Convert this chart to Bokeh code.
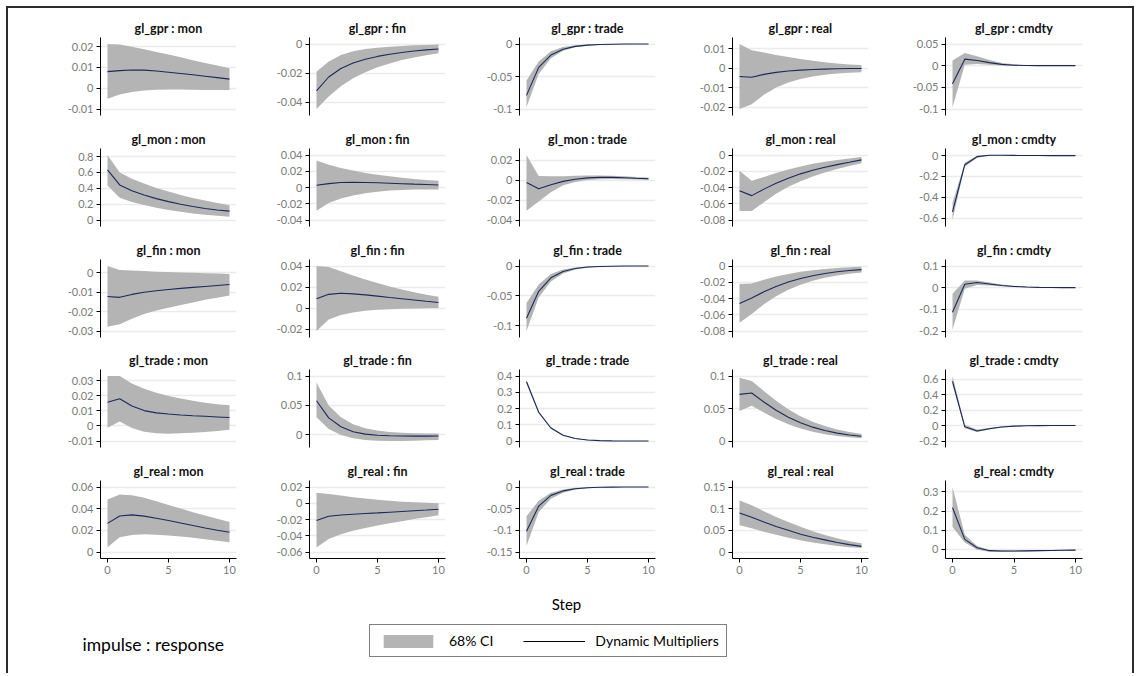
from bokeh.plotting import figure
from bokeh.layouts import column
from bokeh.models import (Range1d, FixedTicker, Legend, LegendItem, Label, GridPlot)
from bokeh.embed import file_html
from bokeh.resources import INLINE

steps = list(range(11))
impulses = ["gpr", "mon", "fin", "trade", "real"]
responses = ["mon", "fin", "trade", "real", "cmdty"]
step_ticks = [0, 5, 10]

# ---------------- impulse gl_gpr ----------------
gpr_mon_mid = [0.0080, 0.0085, 0.0088, 0.0087, 0.0083, 0.0077, 0.0071, 0.0065, 0.0058, 0.0051, 0.0044]
gpr_mon_hi = [0.0213, 0.0210, 0.0200, 0.0188, 0.0175, 0.0162, 0.0149, 0.0135, 0.0122, 0.0109, 0.0096]
gpr_mon_lo = [-0.0051, -0.0030, -0.0018, -0.0011, -0.0007, -0.0006, -0.0006, -0.0007, -0.0008, -0.0009, -0.0009]
gpr_mon_ticks = [-0.01, 0, 0.01, 0.02]

gpr_fin_mid = [-0.0321, -0.0226, -0.0168, -0.0130, -0.0104, -0.0085, -0.0070, -0.0058, -0.0048, -0.0040, -0.0034]
gpr_fin_hi = [-0.0190, -0.0120, -0.0075, -0.0050, -0.0035, -0.0025, -0.0018, -0.0013, -0.0009, -0.0006, -0.0004]
gpr_fin_lo = [-0.0445, -0.0360, -0.0290, -0.0235, -0.0193, -0.0160, -0.0133, -0.0110, -0.0092, -0.0077, -0.0063]
gpr_fin_ticks = [-0.04, -0.02, 0]

gpr_trade_mid = [-0.079, -0.036, -0.017, -0.008, -0.0037, -0.0017, -0.0008, -0.0003, -0.0001, 0.0, 0.0]
gpr_trade_hi = [-0.056, -0.027, -0.011, -0.0045, -0.0018, -0.0007, -0.0002, 0.0, 0.0, 0.0, 0.0]
gpr_trade_lo = [-0.097, -0.046, -0.022, -0.0105, -0.005, -0.0025, -0.0012, -0.0006, -0.0003, -0.0001, -0.0001]
gpr_trade_ticks = [-0.1, -0.05, 0]

gpr_real_mid = [-0.0042, -0.0046, -0.0031, -0.0021, -0.0014, -0.0009, -0.0006, -0.0004, -0.0002, -0.0001, -0.0001]
gpr_real_hi = [0.0125, 0.0093, 0.0081, 0.0069, 0.0058, 0.0048, 0.0039, 0.0031, 0.0025, 0.0020, 0.0017]
gpr_real_lo = [-0.0209, -0.0185, -0.0136, -0.0099, -0.0073, -0.0055, -0.0042, -0.0033, -0.0027, -0.0023, -0.0020]
gpr_real_ticks = [-0.02, -0.01, 0, 0.01]

gpr_cmdty_mid = [-0.042, 0.015, 0.012, 0.007, 0.003, 0.001, 0.0003, 0.0, 0.0, 0.0, 0.0]
gpr_cmdty_hi = [0.012, 0.029, 0.022, 0.013, 0.006, 0.003, 0.001, 0.0004, 0.0001, 0.0, 0.0]
gpr_cmdty_lo = [-0.096, 0.002, 0.004, 0.002, 0.0005, 0.0, -0.0002, -0.0002, -0.0001, 0.0, 0.0]
gpr_cmdty_ticks = [-0.1, -0.05, 0, 0.05]

# ---------------- impulse gl_mon ----------------
mon_mon_mid = [0.633, 0.443, 0.370, 0.315, 0.270, 0.232, 0.198, 0.170, 0.146, 0.126, 0.112]
mon_mon_hi = [0.820, 0.600, 0.520, 0.460, 0.405, 0.358, 0.316, 0.279, 0.246, 0.216, 0.185]
mon_mon_lo = [0.434, 0.282, 0.228, 0.188, 0.155, 0.127, 0.103, 0.083, 0.067, 0.054, 0.042]
mon_mon_ticks = [0, 0.2, 0.4, 0.6, 0.8]

mon_fin_mid = [0.0028, 0.0048, 0.0062, 0.0064, 0.0062, 0.0058, 0.0053, 0.0047, 0.0041, 0.0036, 0.0031]
mon_fin_hi = [0.0333, 0.0280, 0.0240, 0.0208, 0.0180, 0.0157, 0.0137, 0.0120, 0.0105, 0.0093, 0.0083]
mon_fin_lo = [-0.0285, -0.0190, -0.0135, -0.0097, -0.0070, -0.0051, -0.0038, -0.0030, -0.0026, -0.0024, -0.0024]
mon_fin_ticks = [-0.04, -0.02, 0, 0.02, 0.04]

mon_trade_mid = [-0.0024, -0.0087, -0.0045, -0.0012, 0.0010, 0.0023, 0.0028, 0.0028, 0.0024, 0.0019, 0.0015]
mon_trade_hi = [0.0253, 0.0043, 0.0040, 0.0040, 0.0044, 0.0047, 0.0047, 0.0044, 0.0039, 0.0033, 0.0028]
mon_trade_lo = [-0.0307, -0.0213, -0.0120, -0.0052, -0.0017, 0.0001, 0.0009, 0.0011, 0.0009, 0.0006, 0.0003]
mon_trade_ticks = [-0.04, -0.02, 0, 0.02]

mon_real_mid = [-0.0439, -0.0500, -0.0420, -0.0348, -0.0285, -0.0232, -0.0187, -0.0150, -0.0118, -0.0090, -0.0060]
mon_real_hi = [-0.0195, -0.0317, -0.0270, -0.0222, -0.0178, -0.0140, -0.0108, -0.0082, -0.0060, -0.0042, -0.0025]
mon_real_lo = [-0.0690, -0.0690, -0.0580, -0.0478, -0.0392, -0.0322, -0.0264, -0.0215, -0.0173, -0.0136, -0.0100]
mon_real_ticks = [-0.08, -0.06, -0.04, -0.02, 0]

mon_cmdty_mid = [-0.540, -0.087, -0.010, 0.003, 0.003, 0.002, 0.001, 0.0005, 0.0, 0.0, 0.0]
mon_cmdty_hi = [-0.455, -0.068, 0.000, 0.006, 0.005, 0.003, 0.0015, 0.0008, 0.0003, 0.0001, 0.0]
mon_cmdty_lo = [-0.617, -0.105, -0.020, -0.001, 0.001, 0.0005, 0.0002, 0.0, 0.0, 0.0, 0.0]
mon_cmdty_ticks = [-0.6, -0.4, -0.2, 0]

# ---------------- impulse gl_fin ----------------
fin_mon_mid = [-0.0123, -0.0127, -0.0112, -0.0101, -0.0093, -0.0087, -0.0081, -0.0076, -0.0071, -0.0066, -0.0061]
fin_mon_hi = [0.0034, 0.0014, 0.0011, 0.0008, 0.0005, 0.0003, 0.0001, -0.0001, -0.0003, -0.0005, -0.0007]
fin_mon_lo = [-0.0278, -0.0265, -0.0237, -0.0213, -0.0195, -0.0180, -0.0166, -0.0153, -0.0140, -0.0129, -0.0118]
fin_mon_ticks = [-0.03, -0.02, -0.01, 0]

fin_fin_mid = [0.0089, 0.0130, 0.0140, 0.0135, 0.0125, 0.0113, 0.0100, 0.0088, 0.0076, 0.0064, 0.0053]
fin_fin_hi = [0.0400, 0.0390, 0.0350, 0.0310, 0.0272, 0.0237, 0.0205, 0.0176, 0.0150, 0.0127, 0.0106]
fin_fin_lo = [-0.0219, -0.0110, -0.0066, -0.0042, -0.0027, -0.0017, -0.0011, -0.0007, -0.0004, -0.0002, 0.0000]
fin_fin_ticks = [-0.02, 0, 0.02, 0.04]

fin_trade_mid = [-0.0876, -0.0424, -0.0198, -0.0092, -0.0042, -0.0018, -0.0008, -0.0003, -0.0001, 0.0, 0.0]
fin_trade_hi = [-0.0622, -0.0310, -0.0135, -0.0060, -0.0026, -0.0010, -0.0004, -0.0001, 0.0, 0.0, 0.0]
fin_trade_lo = [-0.1090, -0.0530, -0.0260, -0.0125, -0.0060, -0.0028, -0.0013, -0.0006, -0.0003, -0.0001, 0.0]
fin_trade_ticks = [-0.1, -0.05, 0]

fin_real_mid = [-0.0463, -0.0394, -0.0318, -0.0252, -0.0198, -0.0154, -0.0119, -0.0092, -0.0071, -0.0055, -0.0045]
fin_real_hi = [-0.0223, -0.0215, -0.0170, -0.0130, -0.0097, -0.0071, -0.0051, -0.0036, -0.0025, -0.0016, -0.0008]
fin_real_lo = [-0.0699, -0.0590, -0.0470, -0.0372, -0.0293, -0.0231, -0.0182, -0.0145, -0.0116, -0.0095, -0.0080]
fin_real_ticks = [-0.08, -0.06, -0.04, -0.02, 0]

fin_cmdty_mid = [-0.1136, 0.0155, 0.0240, 0.0170, 0.0100, 0.0055, 0.0030, 0.0015, 0.0007, 0.0003, 0.0001]
fin_cmdty_hi = [-0.0280, 0.0336, 0.0330, 0.0240, 0.0150, 0.0090, 0.0050, 0.0025, 0.0012, 0.0005, 0.0002]
fin_cmdty_lo = [-0.1940, -0.0045, 0.0120, 0.0100, 0.0060, 0.0030, 0.0015, 0.0006, 0.0002, 0.0, 0.0]
fin_cmdty_ticks = [-0.2, -0.1, 0, 0.1]

# ---------------- impulse gl_trade ----------------
trade_mon_mid = [0.0157, 0.0181, 0.0133, 0.0102, 0.0087, 0.0079, 0.0073, 0.0068, 0.0064, 0.0060, 0.0056]
trade_mon_hi = [0.0332, 0.0332, 0.0282, 0.0247, 0.0220, 0.0199, 0.0182, 0.0167, 0.0155, 0.0145, 0.0137]
trade_mon_lo = [-0.0012, 0.0029, -0.0014, -0.0038, -0.0049, -0.0051, -0.0049, -0.0045, -0.0040, -0.0034, -0.0026]
trade_mon_ticks = [-0.01, 0, 0.01, 0.02, 0.03]

trade_fin_mid = [0.058, 0.029, 0.014, 0.0055, 0.0015, -0.0005, -0.0014, -0.0018, -0.0019, -0.0019, -0.0018]
trade_fin_hi = [0.089, 0.050, 0.030, 0.018, 0.0115, 0.0075, 0.0052, 0.0038, 0.0030, 0.0026, 0.0024]
trade_fin_lo = [0.030, 0.010, 0.000, -0.0055, -0.0085, -0.0098, -0.0102, -0.0100, -0.0096, -0.0091, -0.0086]
trade_fin_ticks = [0, 0.05, 0.1]

trade_trade_mid = [0.365, 0.177, 0.080, 0.035, 0.015, 0.006, 0.0022, 0.0007, 0.0002, 0.0, 0.0]
trade_trade_hi = [0.376, 0.183, 0.084, 0.038, 0.017, 0.007, 0.0028, 0.0011, 0.0004, 0.0001, 0.0]
trade_trade_lo = [0.354, 0.170, 0.076, 0.032, 0.013, 0.005, 0.0016, 0.0004, 0.0, 0.0, 0.0]
trade_trade_ticks = [0, 0.1, 0.2, 0.3, 0.4]

trade_real_mid = [0.0718, 0.0738, 0.0600, 0.0472, 0.0366, 0.0281, 0.0213, 0.0161, 0.0121, 0.0092, 0.0072]
trade_real_hi = [0.0974, 0.0923, 0.0770, 0.0620, 0.0490, 0.0382, 0.0296, 0.0229, 0.0177, 0.0138, 0.0108]
trade_real_lo = [0.0462, 0.0543, 0.0440, 0.0340, 0.0258, 0.0193, 0.0143, 0.0105, 0.0077, 0.0057, 0.0043]
trade_real_ticks = [0, 0.05, 0.1]

trade_cmdty_mid = [0.570, -0.017, -0.070, -0.042, -0.020, -0.008, -0.003, -0.001, 0.0, 0.0, 0.0]
trade_cmdty_hi = [0.640, 0.010, -0.052, -0.030, -0.013, -0.004, -0.001, 0.0, 0.0, 0.0, 0.0]
trade_cmdty_lo = [0.520, -0.036, -0.085, -0.052, -0.026, -0.012, -0.005, -0.002, -0.001, 0.0, 0.0]
trade_cmdty_ticks = [-0.2, 0, 0.2, 0.4, 0.6]

# ---------------- impulse gl_real ----------------
real_mon_mid = [0.0264, 0.0333, 0.0343, 0.0331, 0.0312, 0.0290, 0.0267, 0.0244, 0.0222, 0.0201, 0.0182]
real_mon_hi = [0.0485, 0.0530, 0.0525, 0.0500, 0.0469, 0.0435, 0.0401, 0.0368, 0.0337, 0.0307, 0.0278]
real_mon_lo = [0.0045, 0.0136, 0.0158, 0.0163, 0.0160, 0.0153, 0.0143, 0.0131, 0.0118, 0.0105, 0.0090]
real_mon_ticks = [0, 0.02, 0.04, 0.06]

real_fin_mid = [-0.0213, -0.0160, -0.0145, -0.0135, -0.0127, -0.0119, -0.0110, -0.0101, -0.0092, -0.0083, -0.0073]
real_fin_hi = [0.0128, 0.0115, 0.0095, 0.0075, 0.0058, 0.0043, 0.0030, 0.0020, 0.0012, 0.0006, 0.0001]
real_fin_lo = [-0.0545, -0.0440, -0.0380, -0.0338, -0.0304, -0.0274, -0.0246, -0.0220, -0.0195, -0.0171, -0.0148]
real_fin_ticks = [-0.06, -0.04, -0.02, 0, 0.02]

real_trade_mid = [-0.1023, -0.0442, -0.0193, -0.0090, -0.0040, -0.0017, -0.0007, -0.0003, -0.0001, 0.0, 0.0]
real_trade_hi = [-0.0674, -0.0320, -0.0135, -0.0055, -0.0020, -0.0007, -0.0002, 0.0, 0.0, 0.0, 0.0]
real_trade_lo = [-0.1356, -0.0580, -0.0270, -0.0130, -0.0060, -0.0028, -0.0013, -0.0006, -0.0002, -0.0001, 0.0]
real_trade_ticks = [-0.15, -0.1, -0.05, 0]

real_real_mid = [0.090, 0.080, 0.069, 0.059, 0.050, 0.041, 0.034, 0.028, 0.022, 0.017, 0.013]
real_real_hi = [0.119, 0.108, 0.094, 0.081, 0.069, 0.058, 0.048, 0.039, 0.032, 0.025, 0.020]
real_real_lo = [0.062, 0.055, 0.047, 0.040, 0.033, 0.027, 0.022, 0.018, 0.014, 0.011, 0.009]
real_real_ticks = [0, 0.05, 0.1, 0.15]

real_cmdty_mid = [0.218, 0.051, 0.007, -0.008, -0.010, -0.010, -0.009, -0.008, -0.007, -0.006, -0.005]
real_cmdty_hi = [0.326, 0.075, 0.016, -0.003, -0.006, -0.0065, -0.006, -0.005, -0.004, -0.003, -0.002]
real_cmdty_lo = [0.116, 0.035, -0.003, -0.014, -0.015, -0.014, -0.013, -0.011, -0.010, -0.009, -0.008]
real_cmdty_ticks = [0, 0.1, 0.2, 0.3]

# ---------------- styling ----------------
BAND = "#b4b4b4"
LINE = "#1b2a58"
GRID = "#ebebeb"
TICKLBL = "#7a7a7a"
FONT = "Lato"
EDGE = "#2b2b2b"

ORIGIN_X, ORIGIN_Y = 8, 8
col_widths = [241, 210, 213, 213, 247]
col_left = [92, 60, 60, 60, 60]
col_frame = [136, 136, 136, 136, 137]
row_heights = [111, 111, 110, 111, 129]
row_bottom = [4, 4, 3, 4, 22]
TOP = 29
FRAME_H = 78
PAD_PX = 6.5

data = globals()
children = []
for r, imp in enumerate(impulses):
    for c, resp in enumerate(responses):
        key = f"{imp}_{resp}"
        mid = data[key + "_mid"]
        lo = data[key + "_lo"]
        hi = data[key + "_hi"]
        ticks = data[key + "_ticks"]
        vmin = min(min(lo), min(ticks))
        vmax = max(max(hi), max(ticks))
        pad = (vmax - vmin) * PAD_PX / (FRAME_H - 2 * PAD_PX)
        xpad = 10 * 7.0 / (col_frame[c] - 14)
        p = figure(width=col_widths[c], height=row_heights[r],
                   x_range=Range1d(-xpad, 10 + xpad),
                   y_range=Range1d(vmin - pad, vmax + pad),
                   output_backend="svg", toolbar_location=None, tools="",
                   min_border_left=col_left[c],
                   min_border_right=col_widths[c] - col_left[c] - col_frame[c],
                   min_border_top=TOP, min_border_bottom=row_bottom[r],
                   title=f"gl_{imp} : {resp}")
        p.outline_line_color = None
        p.background_fill_color = "white"
        p.border_fill_color = "white"
        p.title.align = "center"
        p.title.text_font = FONT
        p.title.text_font_size = "12.5px"
        p.title.text_font_style = "bold"
        p.title.text_color = "#111111"
        p.title.standoff = 3

        p.varea(x=steps, y1=lo, y2=hi, fill_color=BAND, fill_alpha=1.0)
        p.line(x=steps, y=mid, line_color=LINE, line_width=1.1)

        p.xgrid.visible = False
        p.ygrid.grid_line_color = GRID
        p.ygrid.grid_line_width = 1.3
        p.yaxis.ticker = FixedTicker(ticks=ticks)
        p.yaxis.major_label_overrides = {t: f"{t:g}" for t in ticks}
        for ax in (p.yaxis, p.xaxis):
            ax.axis_line_color = "#000000"
            ax.axis_line_width = 1
            ax.major_tick_line_color = "#000000"
            ax.major_tick_out = 4
            ax.major_tick_in = 0
            ax.minor_tick_line_color = None
            ax.major_label_text_color = TICKLBL
            ax.major_label_text_font = FONT
            ax.major_label_text_font_size = "11px"
            ax.major_label_standoff = 3
        if r == len(impulses) - 1:
            p.xaxis.ticker = FixedTicker(ticks=step_ticks)
            p.xaxis.major_label_overrides = {t: str(t) for t in step_ticks}
        else:
            p.xaxis.visible = False
        children.append((p, r, c))

# bottom strip: x-title, note and legend; its ranges are in page pixels.
TOTAL_W = sum(col_widths)
BOT_H = 95
bot_top = ORIGIN_Y + sum(row_heights)
bot = figure(width=TOTAL_W, height=BOT_H,
             x_range=Range1d(ORIGIN_X, ORIGIN_X + TOTAL_W),
             y_range=Range1d(bot_top + BOT_H, bot_top),
             output_backend="svg", toolbar_location=None, tools="",
             x_axis_type=None, y_axis_type=None,
             min_border_left=0, min_border_right=0,
             min_border_top=0, min_border_bottom=0)
bot.outline_line_color = None
bot.xgrid.visible = False
bot.ygrid.visible = False
r_band = bot.varea(x=steps, y1=gpr_mon_lo, y2=gpr_mon_hi, fill_color=BAND, visible=False)
r_line = bot.line(x=steps, y=gpr_mon_mid, line_color="#000000", line_width=1.2, visible=False)

bot.add_layout(Label(x=566, y=603, text="Step", text_align="center", text_baseline="middle",
                     text_font=FONT, text_font_size="15px", text_color="#000000"))
bot.add_layout(Label(x=82, y=644, text="impulse : response", text_align="left", text_baseline="middle",
                     text_font=FONT, text_font_size="17.5px", text_color="#000000"))

legend = Legend(items=[LegendItem(label="68% CI", renderers=[r_band]),
                       LegendItem(label="Dynamic Multipliers", renderers=[r_line])],
                location=(369 - ORIGIN_X, bot_top + BOT_H - 657), orientation="horizontal",
                glyph_width=62, glyph_height=16, label_standoff=10, spacing=30,
                padding=7, margin=0,
                border_line_color="#000000", border_line_width=1,
                background_fill_color="white", background_fill_alpha=1.0,
                label_text_font=FONT, label_text_font_size="14px", label_text_color="#000000")
bot.add_layout(legend)
children.append((column(bot), 5, 0, 1, 5))

grid = GridPlot(children=children, toolbar_location=None, spacing=0,
                margin=(ORIGIN_Y, 0, 0, ORIGIN_X),
                styles={"box-shadow": f"-2px -2px 0 0 {EDGE}, 2px -2px 0 0 {EDGE}"})

open("out.html", "w").write(file_html(grid, INLINE))
